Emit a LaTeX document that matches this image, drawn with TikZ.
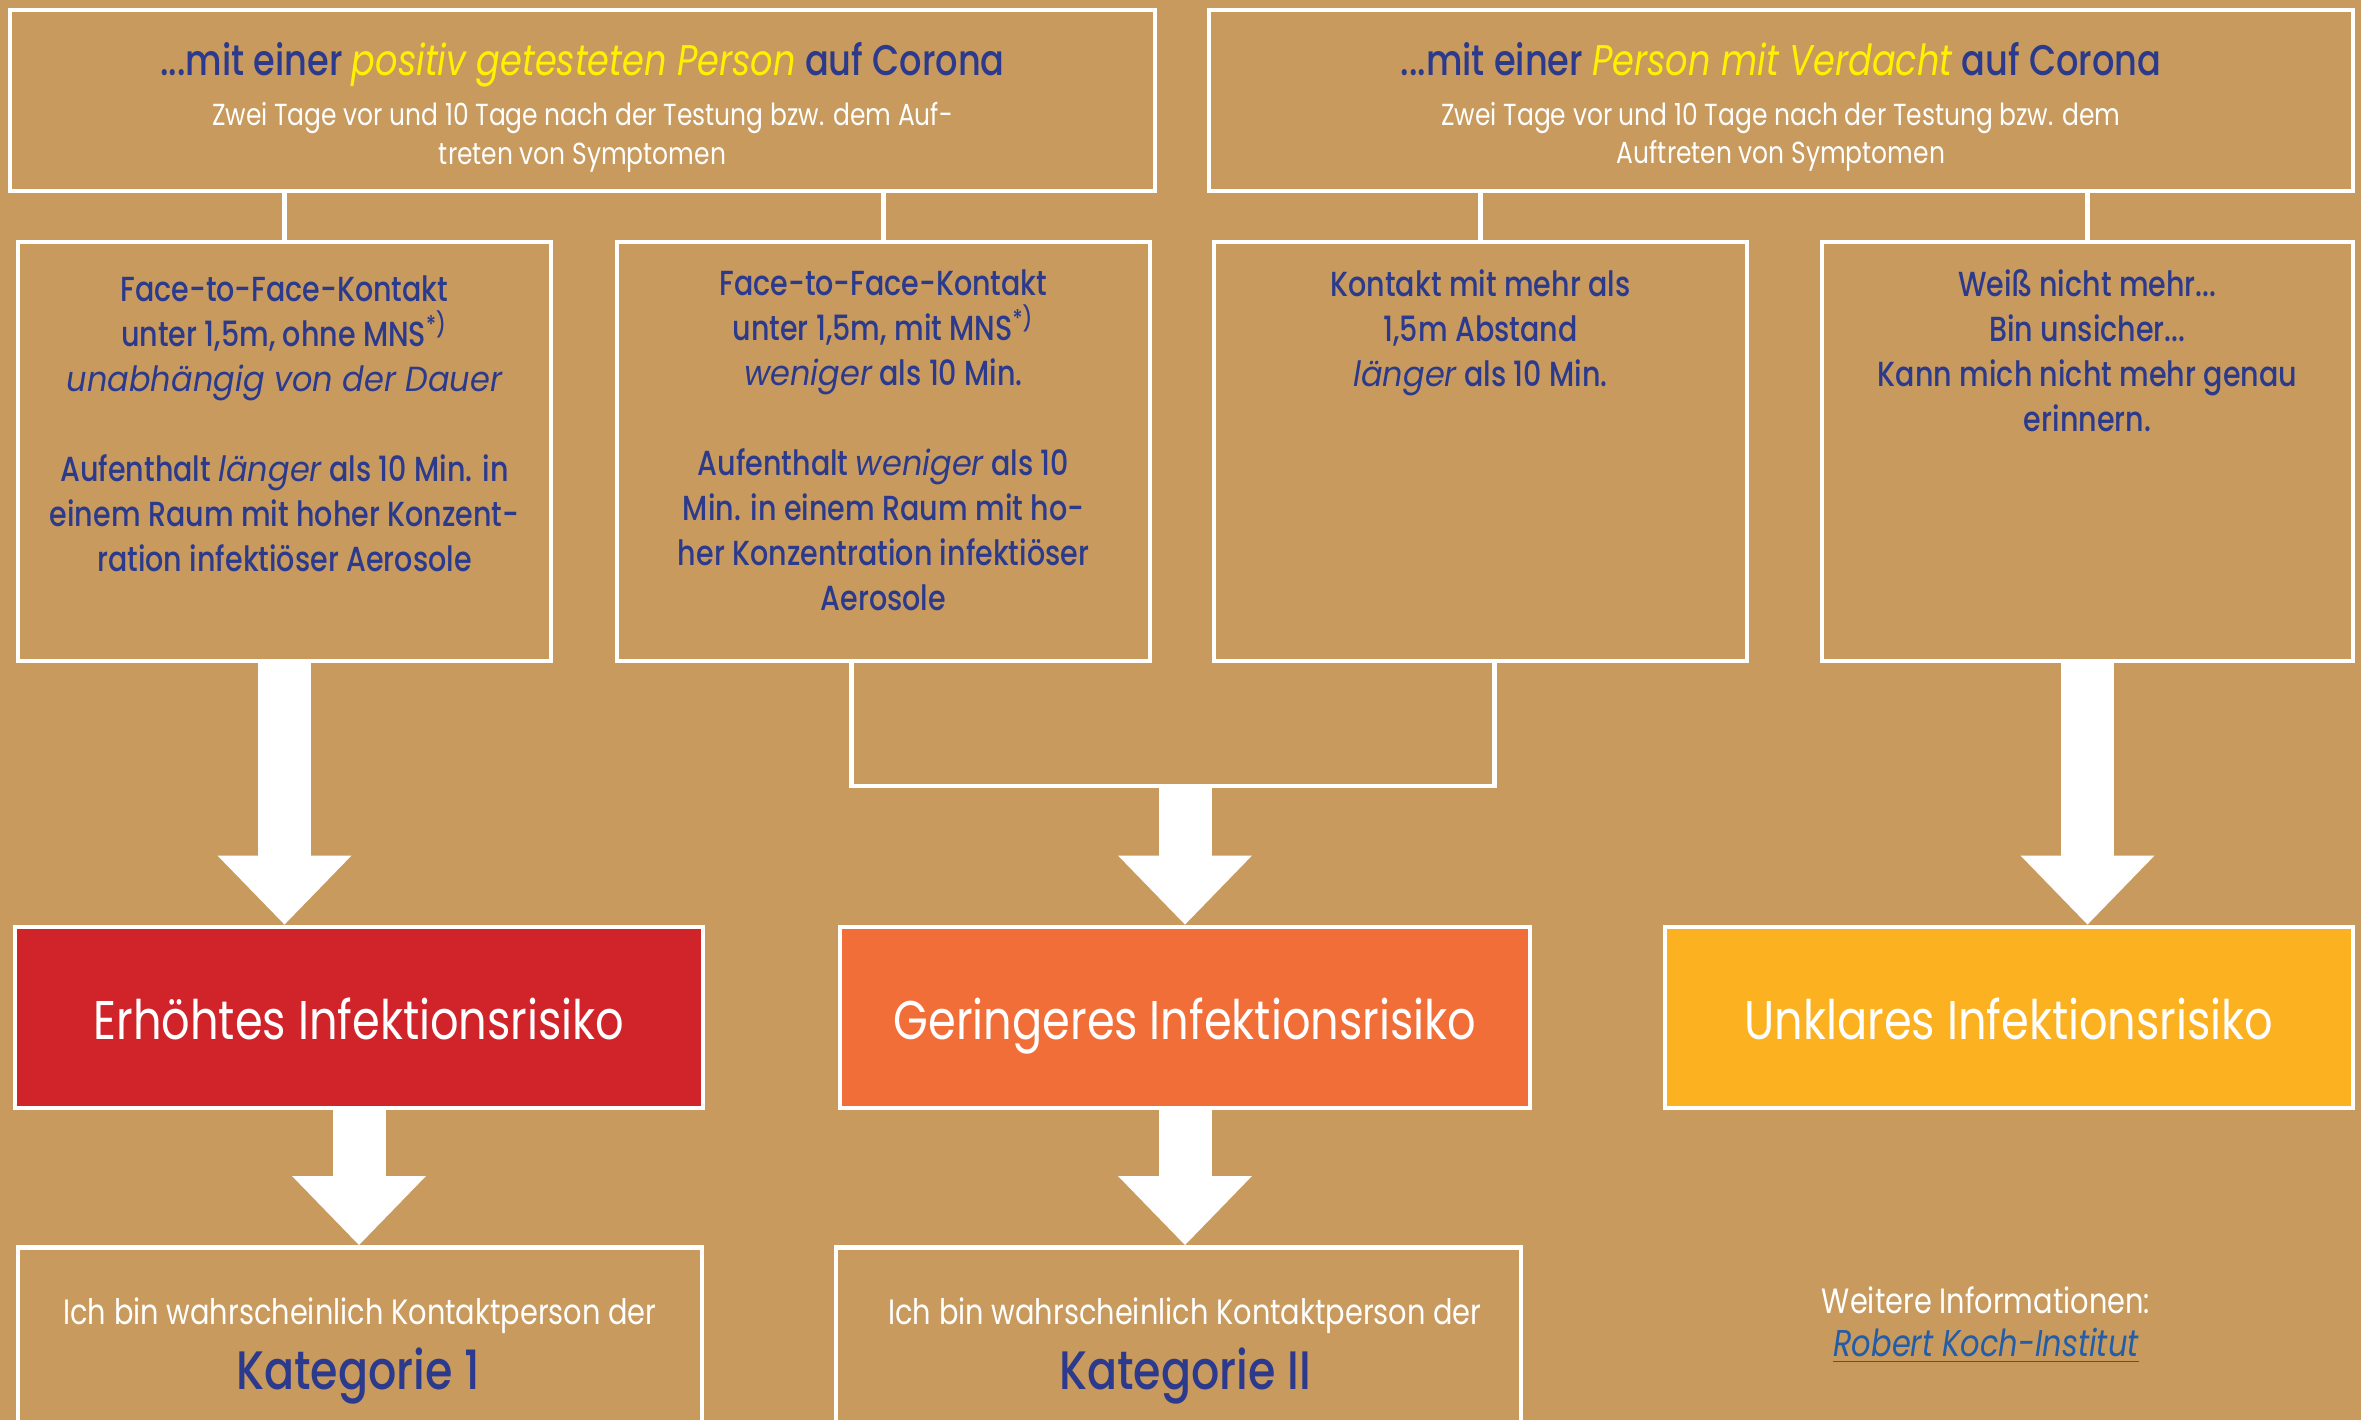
\documentclass[tikz,border=0pt]{standalone}
\usepackage{fontspec}
\setmainfont{Poppins}[FakeStretch=0.82, BoldFont={Poppins Medium}]
\newfontfamily\litefam{Poppins}[FakeStretch=0.92]
\usepackage{tikz}
\usetikzlibrary{arrows.meta}
\definecolor{tan}{HTML}{C89A5D}
\definecolor{darkblue}{HTML}{2B3A8C}
\definecolor{hiyellow}{HTML}{FFF200}
\definecolor{riskred}{HTML}{D1232A}
\definecolor{riskorange}{HTML}{F26E38}
\definecolor{riskyellow}{HTML}{FBB120}
\definecolor{linkblue}{HTML}{215DA8}
\tikzset{
  frame/.style={draw=white, line width=1.4pt, rectangle, inner sep=0pt},
  wire/.style={draw=white, line width=1.4pt},
  bigarrow/.style={draw=white, line width=0.53cm, -{Triangle[width=1.34cm, length=0.69cm, line width=0pt]}},
  toptitle/.style={text=darkblue, inner sep=0pt, anchor=base, font=\fontsize{12.2}{14}\selectfont\bfseries},
  topsub/.style={text=white, align=center, inner sep=0pt, font=\fontsize{8.66}{11}\selectfont},
  bluetext/.style={text=darkblue, align=center, anchor=north, inner sep=0pt, font=\fontsize{9.9}{12.8}\selectfont\bfseries},
  risk/.style={frame, text=white, minimum height=1.81cm, text height=14pt, text depth=1.5pt, font=\fontsize{15.5}{18}\selectfont},
  kattext/.style={text=white, inner sep=0pt, font=\fontsize{10}{12}\selectfont},
  katname/.style={text=darkblue, inner sep=0pt, font=\fontsize{15.4}{18}\selectfont\bfseries}
}
\newcommand{\hl}[1]{\textcolor{hiyellow}{\mdseries\itshape #1}}
\newcommand{\lite}[1]{{\litefam\mdseries\itshape #1}}

\begin{document}
\begin{tikzpicture}
\useasboundingbox (0,0) rectangle (23.61,-14.20);
\fill[tan] (0,0) rectangle (23.61,-14.20);

% Kontakt mit ...
\node[frame, minimum width=11.45cm, minimum height=1.81cm] (positiv) at (5.825,-1.005) {};
\node[frame, minimum width=11.44cm, minimum height=1.81cm] (verdacht) at (17.81,-1.005) {};
\node[toptitle] (positivtitel) at (5.825,-0.75) {...mit einer \hl{positiv getesteten Person} auf Corona};
\node[topsub] (positivzeit) at (5.825,-1.37) {Zwei Tage vor und 10 Tage nach der Testung bzw. dem Auf-\\treten von Symptomen};
\node[toptitle] (verdachttitel) at (17.81,-0.75) {...mit einer \hl{Person mit Verdacht} auf Corona};
\node[topsub] (verdachtzeit) at (17.81,-1.37) {Zwei Tage vor und 10 Tage nach der Testung bzw. dem\\Auftreten von Symptomen};

% Art des Kontakts
\node[frame, minimum width=5.33cm, minimum height=4.19cm] (nah) at (2.845,-4.515) {};
\node[frame, minimum width=5.33cm, minimum height=4.19cm] (mns) at (8.835,-4.515) {};
\node[frame, minimum width=5.33cm, minimum height=4.19cm] (abstand) at (14.805,-4.515) {};
\node[frame, minimum width=5.31cm, minimum height=4.19cm] (unsicher) at (20.875,-4.515) {};
\node[bluetext] (nahtext) at (2.845,-2.75) {Face-to-Face-Kontakt\\unter 1,5m, ohne MNS\textsuperscript{*)}\\\lite{unabhängig von der Dauer}\\[12.8pt]Aufenthalt \lite{länger} als 10 Min. in\\einem Raum mit hoher Konzent-\\ration infektiöser Aerosole};
\node[bluetext] (mnstext) at (8.835,-2.69) {Face-to-Face-Kontakt\\unter 1,5m, mit MNS\textsuperscript{*)}\\\lite{weniger} als 10 Min.\\[12.8pt]Aufenthalt \lite{weniger} als 10\\Min. in einem Raum mit ho-\\her Konzentration infektiöser\\Aerosole};
\node[bluetext] (abstandtext) at (14.805,-2.69) {Kontakt mit mehr als\\1,5m Abstand\\\lite{länger} als 10 Min.};
\node[bluetext] (unsichertext) at (20.875,-2.69) {Weiß nicht mehr...\\Bin unsicher...\\Kann mich nicht mehr genau\\erinnern.};

\draw[wire] (positiv.south -| nah.north) -- (nah.north);
\draw[wire] (positiv.south -| mns.north) -- (mns.north);
\draw[wire] (verdacht.south -| abstand.north) -- (abstand.north);
\draw[wire] (verdacht.south -| unsicher.north) -- (unsicher.north);

% Risiko
\node[risk, fill=riskred, minimum width=6.88cm] (rot) at (3.59,-10.175) {Erhöhtes Infektionsrisiko};
\node[risk, fill=riskorange, minimum width=6.90cm] (orange) at (11.85,-10.175) {Geringeres Infektionsrisiko};
\node[risk, fill=riskyellow, minimum width=6.88cm] (gelb) at (20.09,-10.175) {Unklares Infektionsrisiko};

\coordinate (brk) at (11.85,-7.86);
\draw[wire] ([xshift=-0.32cm]mns.south) |- (brk) -| ([xshift=0.14cm]abstand.south);
\draw[bigarrow] (nah.south) -- (nah.south |- rot.north);
\draw[bigarrow] (brk) -- (orange.north);
\draw[bigarrow] (unsicher.south) -- (unsicher.south |- gelb.north);

% Kategorie
\node[frame, minimum width=6.84cm, minimum height=2.2cm, anchor=north] (kat1) at (3.60,-12.45) {};
\node[frame, minimum width=6.85cm, minimum height=2.2cm, anchor=north] (kat2) at (11.785,-12.45) {};
\node[kattext] (kat1text) at (3.60,-13.16) {Ich bin wahrscheinlich Kontaktperson der};
\node[katname] (kat1name) at (3.58,-13.76) {Kategorie 1};
\node[kattext] (kat2text) at (11.85,-13.16) {Ich bin wahrscheinlich Kontaktperson der};
\node[katname] (kat2name) at (11.85,-13.76) {Kategorie II};
\draw[bigarrow] (rot.south) -- (rot.south |- kat1.north);
\draw[bigarrow] (orange.south) -- (orange.south |- kat2.north);

\node[kattext] (info) at (19.86,-13.00) {Weitere Informationen:};
\node[text=linkblue, inner sep=0pt, font=\fontsize{10.6}{12}\selectfont\itshape] (rki) at (19.86,-13.46) {\underline{Robert Koch-Institut}};
\end{tikzpicture}
\end{document}
